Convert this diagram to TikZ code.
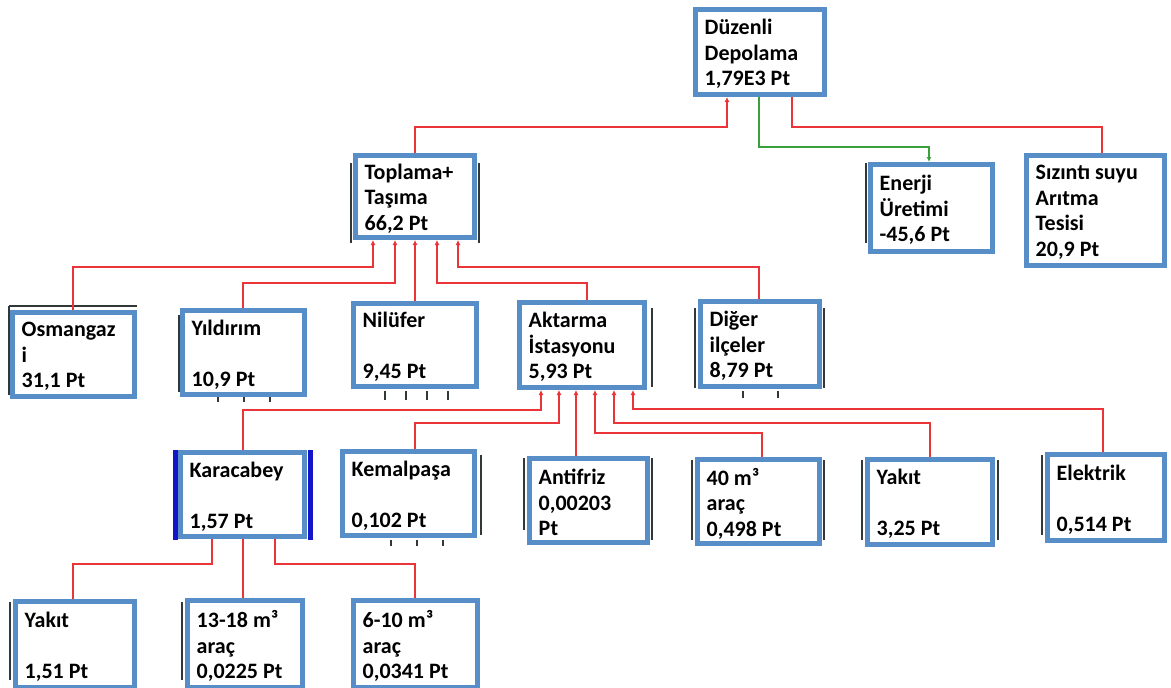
\documentclass[tikz,border=0pt]{standalone}
\usepackage{fontspec}
\setmainfont{Carlito}
\usetikzlibrary{arrows.meta}

\definecolor{boxblue}{RGB}{88,142,200}
\definecolor{linkred}{RGB}{234,52,56}
\definecolor{linkgreen}{RGB}{58,160,58}
\definecolor{edgedark}{RGB}{50,55,55}
\definecolor{edgeblue}{RGB}{20,20,200}

% process box given by its outer corners (x1,y1) (x2,y2) in pixel units,
% with its label set flush left inside it
\newcommand\mkbox[6]{%
  \pgfmathsetmacro\bxcx{(#2+#4)/2}%
  \pgfmathsetmacro\bxcy{(#3+#5)/2}%
  \pgfmathsetmacro\bxmw{#4-#2-5}%
  \pgfmathsetmacro\bxmh{#5-#3-5}%
  \node[procbox, minimum width=\bxmw pt, minimum height=\bxmh pt] (#1) at (\bxcx,\bxcy) {};
  \node[proctext] (#1-t) at ([xshift=11.5pt,yshift=-2pt]#1.west) {#6};}

\tikzset{
  procbox/.style={draw=boxblue, line width=5pt, fill=white, inner sep=0pt},
  proctext/.style={anchor=west, inner sep=0pt, align=left,
    font=\bfseries\fontsize{22}{25.5}\selectfont},
  rlink/.style={draw=linkred, line width=2pt},
  glink/.style={draw=linkgreen, line width=2pt},
  tip/.style={-{Latex[length=5pt,width=5pt]}},
  sidebar/.style={draw=edgedark, line width=2pt},
  tick/.style={draw=edgedark, line width=1.6pt},
}

\begin{document}
\begin{tikzpicture}[x=1pt,y=-1pt]
\useasboundingbox[fill=white] (0,0) rectangle (1171,688);

% edges of boxes lying behind the front ones
\draw[sidebar] (351,163) -- (351,243) (479,163) -- (479,243);
\draw[sidebar] (9,306) -- (137,306) (9,306) -- (9,395);
\draw[sidebar] (179,315) -- (179,392);
\draw[sidebar] (652,308) -- (652,387);
\draw[sidebar] (695,308) -- (695,388) (824,308) -- (824,388);
\draw[sidebar] (866,163) -- (866,243);
\draw[sidebar] (481,455) -- (481,535);
\draw[sidebar] (524,458) -- (524,530) (652,458) -- (652,540);
\draw[sidebar] (692,460) -- (692,540) (824,460) -- (824,540);
\draw[sidebar] (862,460) -- (862,540) (998,460) -- (998,540);
\draw[sidebar] (1042,455) -- (1042,535);
\draw[sidebar] (10,602) -- (10,680);
\draw[sidebar] (182,602) -- (182,680);
\draw[draw=edgeblue, line width=5pt] (175.5,450) -- (175.5,540) (310,450) -- (310,540);
\foreach \tx in {218,244,270} \draw[tick] (\tx,397) -- (\tx,402);
\foreach \tx in {385,406,427,448} \draw[tick] (\tx,391) -- (\tx,400);
\foreach \tx in {743,778} \draw[tick] (\tx,391) -- (\tx,398);
\foreach \tx in {391,417,443} \draw[tick] (\tx,540) -- (\tx,546);

% process boxes
\mkbox{dep}{693}{7}{827}{97}{Düzenli\\Depolama\\1,79E3 Pt}
\mkbox{ene}{868}{162}{995}{254}{Enerji\\Üretimi\\-45,6 Pt}
\mkbox{siz}{1024}{153}{1167}{268}{Sızıntı suyu\\Arıtma\\Tesisi\\20,9 Pt}
\mkbox{top}{353}{153}{477}{240}{Toplama+\\Taşıma\\66,2 Pt}
\mkbox{osm}{10}{310}{137}{399}{Osmangaz\\i\\31,1 Pt}
\mkbox{yil}{180}{308}{307}{397}{Yıldırım\\\mbox{}\\10,9 Pt}
\mkbox{nil}{351}{301}{479}{389}{Nilüfer\\\mbox{}\\9,45 Pt}
\mkbox{akt}{517}{300}{647}{390}{Aktarma\\İstasyonu\\5,93 Pt}
\mkbox{dig}{698}{299}{822}{389}{Diğer\\ilçeler\\8,79 Pt}
\mkbox{kar}{178}{450}{307}{539}{Karacabey\\\mbox{}\\1,57 Pt}
\mkbox{kem}{340}{449}{477}{538}{Kemalpaşa\\\mbox{}\\0,102 Pt}
\mkbox{ant}{527}{456}{650}{545}{Antifriz\\0,00203\\Pt}
\mkbox{mk40}{695}{457}{822}{546}{40 m³\\araç\\0,498 Pt}
\mkbox{yka}{865}{457}{995}{547}{Yakıt\\\mbox{}\\3,25 Pt}
\mkbox{ele}{1045}{452}{1167}{543}{Elektrik\\\mbox{}\\0,514 Pt}
\mkbox{ykb}{13}{599}{137}{690}{Yakıt\\\mbox{}\\1,51 Pt}
\mkbox{ar13}{185}{598}{305}{690}{13-18 m³\\araç\\0,0225 Pt}
\mkbox{ar6}{351}{598}{480}{690}{6-10 m³\\araç\\0,0341 Pt}

% flows into the landfill
\draw[rlink,tip] (top.north -| 415,0) -- (415,127) -| (dep.south -| 727,0);
\draw[glink,tip] (dep.south -| 759,0) -- (759,147) -| (ene.north -| 929,0);
\draw[rlink] (siz.north -| 1102,0) -- (1102,127) -| (dep.south -| 792,0);

% flows into collection and transport
\draw[rlink,tip] (osm.north -| 73,0) -- (73,267) -| (top.south -| 373,0);
\draw[rlink,tip] (yil.north -| 243,0) -- (243,283) -| (top.south -| 395,0);
\draw[rlink,tip] (nil.north -| 415,0) -- (top.south -| 415,0);
\draw[rlink,tip] (akt.north -| 587,0) -- (587,283) -| (top.south -| 437,0);
\draw[rlink,tip] (dig.north -| 759,0) -- (759,267) -| (top.south -| 458,0);

% flows into the transfer station
\draw[rlink,tip] (kar.north -| 243,0) -- (243,410) -| (akt.south -| 541,0);
\draw[rlink,tip] (kem.north -| 415,0) -- (415,423) -| (akt.south -| 559,0);
\draw[rlink,tip] (ant.north -| 576,0) -- (akt.south -| 576,0);
\draw[rlink,tip] (mk40.north -| 762,0) -- (762,433) -| (akt.south -| 595,0);
\draw[rlink,tip] (yka.north -| 930,0) -- (930,423) -| (akt.south -| 614,0);
\draw[rlink,tip] (ele.north -| 1103,0) -- (1103,409) -| (akt.south -| 633,0);

% inputs of Karacabey
\draw[rlink] (kar.south -| 212,0) -- (212,564) -| (ykb.north -| 73,0);
\draw[rlink] (kar.south -| 243,0) -- (ar13.north -| 243,0);
\draw[rlink] (kar.south -| 275,0) -- (275,564) -| (ar6.north -| 415,0);
\end{tikzpicture}
\end{document}
